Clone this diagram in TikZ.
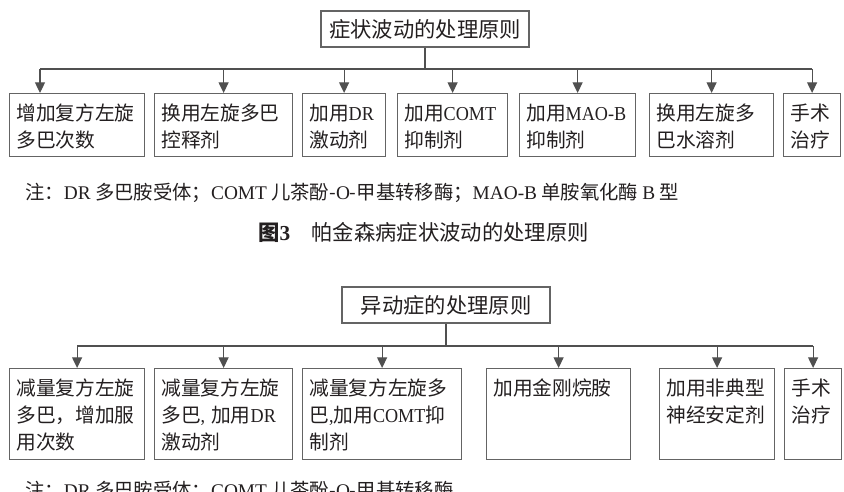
\documentclass[tikz,border=0pt]{standalone}
\usepackage{fontspec}
\setmainfont{Noto Sans CJK SC}
\newfontfamily\latin{Liberation Serif}
\newfontfamily\narrowlatin[FakeStretch=0.92]{Liberation Serif}
\usepackage{tikz}
\usetikzlibrary{arrows.meta}
\definecolor{LineGrey}{RGB}{80,80,80}
\definecolor{BoxGrey}{RGB}{100,100,100}
\definecolor{InkBlack}{RGB}{35,31,32}

\begin{document}
\begin{tikzpicture}[x=0.75pt, y=-0.75pt,
    box/.style={draw=BoxGrey, line width=0.9pt, anchor=north west, align=left,
        inner xsep=5pt, inner ysep=0pt, text height=20pt, text=InkBlack,
        font=\fontsize{14.8pt}{20.25pt}\selectfont},
    row1/.style={text depth=27.25pt},
    row2/.style={text depth=48.25pt},
    head/.style={draw=BoxGrey, line width=0.9pt, minimum width=156pt, minimum height=27pt,
        inner sep=0pt, text=InkBlack, font=\fontsize{16pt}{18pt}\selectfont},
    link/.style={draw=LineGrey, line width=0.9pt},
    arr/.style={link, -{Triangle[width=7.5pt,length=8pt]}},
    note/.style={anchor=west, inner sep=0pt, text=InkBlack, font=\fontsize{14.5pt}{16pt}\selectfont}]

    \useasboundingbox (0,0) rectangle (844,492);

    % Symptom fluctuation
    \node[head] (t1) at (425,29) {症状波动的处理原则};
    \coordinate (bus1) at (425,69);

    \node[box, row1, text width=91.25pt] (a1) at (9,93) {增加复方左旋\\多巴次数};
    \node[box, row1, text width=93.5pt] (a2) at (154,93) {换用左旋多巴\\控释剂};
    \node[box, row1, text width=52.25pt] (a3) at (302,93) {加用{\narrowlatin DR}\\激动剂};
    \node[box, row1, text width=72.5pt] (a4) at (397,93) {加用{\narrowlatin COMT}\\抑制剂};
    \node[box, row1, text width=77pt] (a5) at (519,93) {加用{\narrowlatin\mbox{MAO-B}}\\抑制剂};
    \node[box, row1, text width=83pt] (a6) at (649,93) {换用左旋多\\巴水溶剂};
    \node[box, row1, text width=32.75pt] (a7) at (783,93) {手术\\治疗};
    \coordinate (a1in) at (40,93);

    \draw[link] (t1.south) -- (bus1);
    \draw[link] (a1in |- bus1) -- (a7.north |- bus1);
    \draw[arr] (a1in |- bus1) -- (a1in);
    \foreach \b in {a2,a3,a4,a5,a6,a7}
        \draw[arr] (\b.north |- bus1) -- (\b.north);

    \node[note] (note1) at (25,193) {注：{\latin DR} 多巴胺受体；{\latin COMT} 儿茶酚-{\latin O}-甲基转移酶；{\latin MAO-B} 单胺氧化酶 {\latin B} 型};
    \node[note, font=\fontsize{16pt}{18pt}\selectfont] (cap1) at (258,232) {{\bfseries 图{\latin 3}}\quad 帕金森病症状波动的处理原则};

    % Dyskinesia
    \node[head] (t2) at (446,305) {异动症的处理原则};
    \coordinate (bus2) at (446,346);

    \node[box, row2, text width=91.25pt] (b1) at (9,368) {减量复方左旋\\多巴，增加服\\用次数};
    \node[box, row2, text width=93.5pt] (b2) at (154,368) {减量复方左旋\\多巴{\narrowlatin ,}\hspace{0.3em}加用{\narrowlatin DR}\\激动剂};
    \node[box, row2, text width=109.25pt] (b3) at (302,368) {减量复方左旋多\\巴{\narrowlatin ,}加用{\narrowlatin COMT}抑\\制剂};
    \node[box, row2, text width=98pt] (b4) at (486,368) {加用金刚烷胺};
    \node[box, row2, text width=76.25pt] (b5) at (659,368) {加用非典型\\神经安定剂};
    \node[box, row2, text width=32.75pt] (b6) at (784,368) {手术\\治疗};

    \draw[link] (t2.south) -- (bus2);
    \draw[link] (b1.north |- bus2) -- (b6.north |- bus2);
    \foreach \b in {b1,b2,b3,b4,b5,b6}
        \draw[arr] (\b.north |- bus2) -- (\b.north);

    \node[note] (note2) at (25,491) {注：{\latin DR} 多巴胺受体；{\latin COMT} 儿茶酚-{\latin O}-甲基转移酶};
\end{tikzpicture}
\end{document}
